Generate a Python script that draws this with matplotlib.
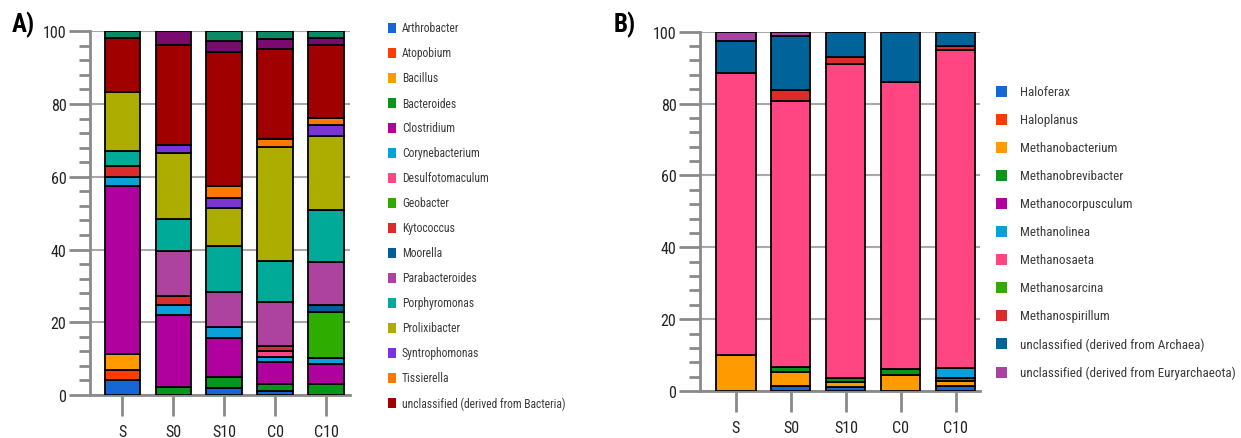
import numpy as np
import matplotlib.pyplot as plt
from matplotlib.patches import Rectangle

# === Data: panel A (bacteria), segment sizes in % per sample ===
samples = ['S', 'S0', 'S10', 'C0', 'C10']

genera_a = ['Arthrobacter', 'Atopobium', 'Bacillus', 'Bacteroides', 'Clostridium',
            'Corynebacterium', 'Desulfotomaculum', 'Geobacter', 'Kytococcus', 'Moorella',
            'Parabacteroides', 'Porphyromonas', 'Prolixibacter', 'Syntrophomonas',
            'Tissierella', 'unclassified (derived from Bacteria)']
# two more thin groups sit on top of the bars, they have no legend entry

arthrobacter = [4.0, 0.0, 1.8, 1.2, 0.0]
atopobium = [3.0, 0.0, 0.0, 0.0, 0.0]
bacillus = [4.3, 0.0, 0.0, 0.0, 0.0]
bacteroides = [0.0, 2.1, 3.1, 1.8, 3.0]
clostridium = [46.1, 19.9, 10.7, 6.2, 5.5]
corynebacterium = [2.6, 2.7, 3.0, 1.3, 1.6]
desulfotomaculum = [0.0, 0.0, 0.0, 1.5, 0.0]
geobacter = [0.0, 0.0, 0.0, 0.0, 12.6]
kytococcus = [2.9, 2.6, 0.0, 1.5, 0.0]
moorella = [0.0, 0.0, 0.0, 0.0, 2.0]
parabacteroides = [0.0, 12.4, 9.6, 12.0, 11.8]
porphyromonas = [4.1, 8.7, 12.7, 11.4, 14.5]
prolixibacter = [16.2, 18.1, 10.4, 31.2, 20.3]
syntrophomonas = [0.0, 2.3, 2.8, 0.0, 2.9]
tissierella = [0.0, 0.0, 3.5, 2.3, 1.9]
unclassified_bac = [14.9, 27.4, 36.8, 24.7, 20.1]
other_purple = [0.0, 3.8, 3.0, 2.8, 1.9]
other_green = [1.9, 0.0, 2.6, 2.1, 1.9]

values_a = [arthrobacter, atopobium, bacillus, bacteroides, clostridium, corynebacterium,
            desulfotomaculum, geobacter, kytococcus, moorella, parabacteroides,
            porphyromonas, prolixibacter, syntrophomonas, tissierella, unclassified_bac,
            other_purple, other_green]

colors_a = ['#1666d6', '#ff3c00', '#ff9a00', '#07951a', '#b0009e', '#0ba0d8', '#ff4582',
            '#2eac00', '#dc2b2b', '#005f98', '#ad439e', '#00aa98', '#acad00', '#7a34d8',
            '#ff7800', '#a00000', '#7a0a70', '#0b8a66']

# === Data: panel B (archaea) ===
genera_b = ['Haloferax', 'Haloplanus', 'Methanobacterium', 'Methanobrevibacter',
            'Methanocorpusculum', 'Methanolinea', 'Methanosaeta', 'Methanosarcina',
            'Methanospirillum', 'unclassified (derived from Archaea)',
            'unclassified (derived from Euryarchaeota)']

haloferax = [0.0, 1.5, 1.0, 0.0, 1.3]
haloplanus = [0.0, 0.0, 0.0, 0.0, 0.0]
methanobacterium = [10.0, 3.7, 1.5, 4.5, 1.5]
methanobrevibacter = [0.0, 1.6, 1.0, 1.5, 0.7]
methanocorpusculum = [0.0, 0.0, 0.0, 0.0, 0.0]
methanolinea = [0.0, 0.0, 0.0, 0.0, 3.0]
methanosaeta = [78.5, 74.0, 87.5, 80.1, 88.5]
methanosarcina = [0.0, 0.0, 0.0, 0.0, 0.0]
methanospirillum = [0.0, 3.1, 2.0, 0.0, 1.0]
unclassified_arch = [9.0, 15.0, 7.0, 13.9, 4.0]
unclassified_eury = [2.5, 1.1, 0.0, 0.0, 0.0]

values_b = [haloferax, haloplanus, methanobacterium, methanobrevibacter, methanocorpusculum,
            methanolinea, methanosaeta, methanosarcina, methanospirillum,
            unclassified_arch, unclassified_eury]

colors_b = ['#1666d6', '#ff3c00', '#ff9a00', '#07951a', '#b0009e', '#0ba0d8', '#ff4582',
            '#2eac00', '#dc2b2b', '#00639a', '#a943a2']

GREY = '#8a8a8a'
NARROW = ['Liberation Sans Narrow', 'Roboto Condensed', 'Archivo Narrow', 'DejaVu Sans']
plt.rcParams['font.family'] = NARROW

W, H = 1241, 439


def stacked_panel(ax, values, colors, width, xlim):
    x = np.arange(len(samples))
    bottom = np.zeros(len(samples))
    for vals, col in zip(values, colors):
        vals = np.array(vals)
        ax.bar(x, vals, width, bottom=bottom, color=col, edgecolor='black',
               linewidth=1.3, zorder=3)
        bottom += vals
    ax.set_xlim(*xlim)
    ax.set_ylim(0, 100)
    ax.set_xticks(x)
    ax.set_xticklabels(samples, fontsize=11.5, color='#222222')
    ax.set_yticks(np.arange(0, 101, 20))
    ax.set_yticklabels([str(v) for v in range(0, 101, 20)], fontsize=11.5, color='#222222')
    ax.set_yticks(np.arange(0, 101, 4), minor=True)
    ax.tick_params(axis='y', which='major', length=15, width=2, color=GREY, pad=2)
    ax.tick_params(axis='y', which='minor', length=8, width=2, color=GREY)
    ax.tick_params(axis='x', length=15, width=2, color=GREY, pad=6)
    ax.grid(axis='y', color='#a8a8a8', linewidth=1.5, zorder=0)
    for side in ('top', 'right'):
        ax.spines[side].set_visible(False)
    for side in ('left', 'bottom'):
        ax.spines[side].set_color(GREY)
        ax.spines[side].set_linewidth(2)


def draw_legend(fig, names, colors, x_sq, x_txt, y_top, step, sq_w, sq_h, fsize):
    for i, (name, col) in enumerate(zip(names, colors)):
        y = y_top + i * step
        fig.patches.append(Rectangle((x_sq / W, 1 - (y + sq_h / 2) / H), sq_w / W, sq_h / H,
                                     transform=fig.transFigure, facecolor=col,
                                     edgecolor='none'))
        fig.text(x_txt / W, 1 - y / H, name, fontsize=fsize, color='#3a3a3a',
                 va='center', ha='left')


fig = plt.figure(figsize=(W / 100, H / 100), dpi=100)

ax_a = fig.add_axes([90 / W, 1 - 396 / H, 260 / W, 363.7 / H])
stacked_panel(ax_a, values_a, colors_a, 0.69, (-0.63, 4.47))
fig.text(12 / W, 1 - 25 / H, 'A)', fontsize=18, fontweight='bold', va='center', ha='left')
draw_legend(fig, genera_a, colors_a[:len(genera_a)], 388, 402, 29, 25, 8, 10, 8.4)

ax_b = fig.add_axes([700 / W, 1 - 392 / H, 280 / W, 359.3 / H])
stacked_panel(ax_b, values_b, colors_b, 0.71, (-0.655, 4.44))
fig.text(614 / W, 1 - 25 / H, 'B)', fontsize=18, fontweight='bold', va='center', ha='left')
draw_legend(fig, genera_b, colors_b, 996, 1020, 92, 28.1, 11, 11, 9.4)

fig.savefig('out.png', dpi=100)
